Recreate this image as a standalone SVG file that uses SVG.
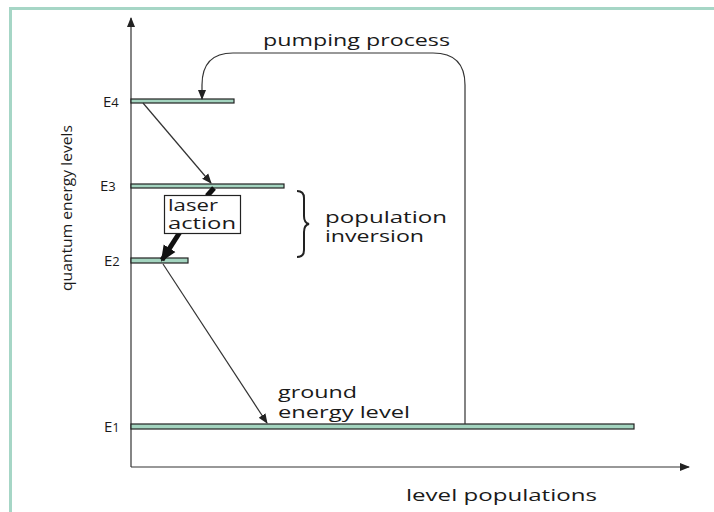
<svg xmlns="http://www.w3.org/2000/svg" width="714" height="512" viewBox="0 0 714 512">
<defs>
<style>
text{font-family:"Open Sans","Noto Sans","DejaVu Sans",sans-serif;fill:#1a1a1a}
.lbl{font-size:17px}
.lev{fill:#a3d4bf;stroke:#222;stroke-width:1.2}
.ln{fill:none;stroke:#333;stroke-width:1.2}
</style>
<marker id="ah" markerWidth="10" markerHeight="10" refX="9" refY="5" orient="auto" markerUnits="userSpaceOnUse"><path d="M0,1 L10,5 L0,9 Z" fill="#222"/></marker>
<marker id="ahb" markerWidth="16" markerHeight="16" refX="14" refY="8" orient="auto" markerUnits="userSpaceOnUse"><path d="M0,1 L16,8 L0,15 Z" fill="#111"/></marker>
</defs>
<rect x="0" y="0" width="714" height="512" fill="#fff"/>
<rect x="10.5" y="8.5" width="720" height="520" fill="none" stroke="#a6d6c6" stroke-width="3"/>
<g id="axes">
<line class="ln" x1="131" y1="467" x2="131" y2="18" marker-end="url(#ah)"/>
<line class="ln" x1="131" y1="467" x2="689" y2="467" marker-end="url(#ah)"/>
<text transform="translate(72,208) rotate(-90)" text-anchor="middle" font-size="15" textLength="166" lengthAdjust="spacingAndGlyphs">quantum energy levels</text>
<text class="lbl" x="406" y="501" textLength="191" lengthAdjust="spacingAndGlyphs">level populations</text>
</g>
<g id="E4"><rect class="lev" x="131" y="99" width="103" height="4"/><text x="103" y="107" font-size="15">E<tspan font-size="13">4</tspan></text></g>
<g id="E3"><rect class="lev" x="131" y="184" width="153" height="4"/><text x="100" y="191" font-size="15">E<tspan font-size="13">3</tspan></text></g>
<g id="E2"><rect class="lev" x="131" y="258" width="57" height="5"/><text x="104" y="266" font-size="15">E<tspan font-size="13">2</tspan></text></g>
<g id="E1"><rect class="lev" x="131" y="424" width="503" height="5"/><text x="104" y="432" font-size="15">E<tspan font-size="13">1</tspan></text>
<text class="lbl" x="278" y="398" textLength="79" lengthAdjust="spacingAndGlyphs">ground</text><text class="lbl" x="278" y="418" textLength="132" lengthAdjust="spacingAndGlyphs">energy level</text></g>
<g id="connectors">
<path class="ln" d="M465,424 V85 Q465,53 433,53 H233 Q202,53 202,85 V99" marker-end="url(#ah)"/>
<line class="ln" x1="143" y1="103" x2="211" y2="183" marker-end="url(#ah)"/>
<line class="ln" x1="163" y1="264" x2="267" y2="423" marker-end="url(#ah)"/>
<line x1="214" y1="188" x2="207" y2="196" stroke="#111" stroke-width="5"/>
<line x1="180" y1="232" x2="162" y2="260" stroke="#111" stroke-width="5" marker-end="url(#ahb)"/>
</g>
<text class="lbl" x="263" y="46" textLength="187" lengthAdjust="spacingAndGlyphs">pumping process</text>
<g id="laser">
<rect x="164.5" y="195.5" width="76" height="38" fill="#fff" stroke="#222" stroke-width="1.2"/>
<text class="lbl" x="168" y="211" textLength="50" lengthAdjust="spacingAndGlyphs">laser</text><text class="lbl" x="168" y="229" textLength="68" lengthAdjust="spacingAndGlyphs">action</text>
</g>
<g id="inversion">
<path d="M297,191 Q304,191 304,198 V216 Q304,223 309,224 Q304,225 304,232 V250 Q304,257 297,257" fill="none" stroke="#222" stroke-width="2"/>
<text class="lbl" x="325" y="223" textLength="122" lengthAdjust="spacingAndGlyphs">population</text><text class="lbl" x="325" y="242" textLength="99" lengthAdjust="spacingAndGlyphs">inversion</text>
</g>
</svg>
